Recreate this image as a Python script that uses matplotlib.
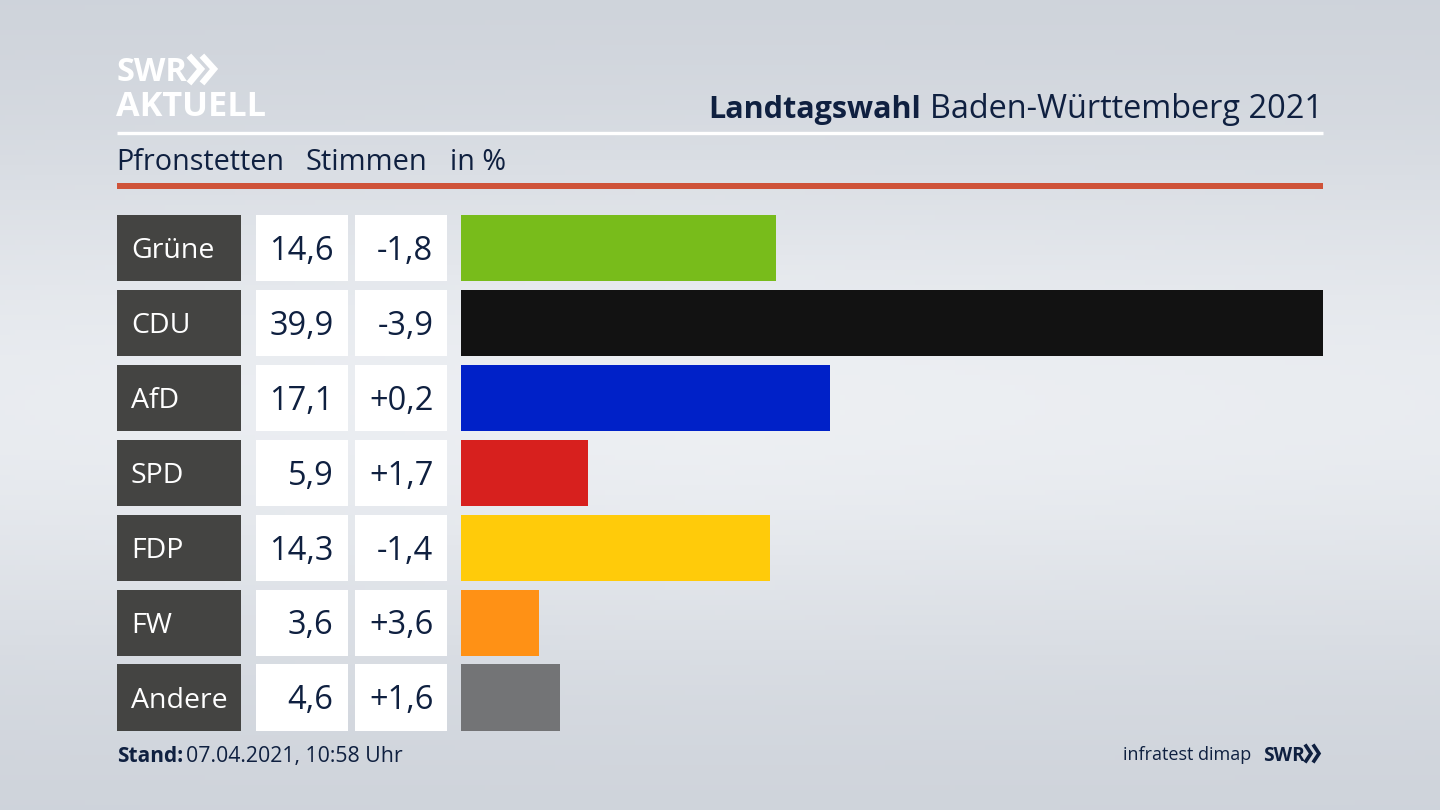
import numpy as np
import matplotlib
matplotlib.use('Agg')
import matplotlib.pyplot as plt
from matplotlib.patches import Rectangle

parteien = ['Grüne', 'CDU', 'AfD', 'SPD', 'FDP', 'FW', 'Andere']
stimmen = [14.6, 39.9, 17.1, 5.9, 14.3, 3.6, 4.6]
stimmen_txt = ['14,6', '39,9', '17,1', '5,9', '14,3', '3,6', '4,6']
diff_txt = ['-1,8', '-3,9', '+0,2', '+1,7', '-1,4', '+3,6', '+1,6']
farben = ['#78bc1b', '#121212', '#0021c8', '#d7201e', '#ffcb0a', '#ff9115', '#737476']

dunkel = '#0f2040'
plt.rcParams['font.family'] = ['Open Sans', 'DejaVu Sans']

fig = plt.figure(figsize=(14.4, 8.1), dpi=100)

# Hintergrund und Layout in Pixeln
bg = fig.add_axes([0, 0, 1, 1])
bg.set_xlim(0, 1440)
bg.set_ylim(810, 0)
bg.axis('off')

yy, xx = np.mgrid[0:1:162j, 0:1:288j]
mitte = np.exp(-((yy - 0.5) / 0.33) ** 2) * (1 - 0.25 * np.abs(xx - 0.5))
rand = np.array([0.80, 0.82, 0.85])
hell = np.array([0.93, 0.94, 0.955])
verlauf = rand + (hell - rand) * mitte[..., None]
bg.imshow(verlauf, extent=(0, 1440, 810, 0), aspect='auto', zorder=0)

# Logo oben links
bg.text(117, 81, 'SWR', color='white', fontsize=23.5, fontweight='bold', va='baseline')
bg.text(116.5, 116, 'AKTUELL', color='white', fontsize=24.7, fontweight='bold', va='baseline')
for x0 in (191, 204):
    bg.plot([x0, x0 + 10, x0], [58, 69, 81], color='white', lw=4.5, solid_joinstyle='miter')

# Kopfzeile
bg.text(708.5, 118, 'Landtagswahl', color=dunkel, fontsize=22, fontweight='bold', va='baseline')
bg.text(1323, 118, 'Baden-Württemberg 2021', color=dunkel, fontsize=23.4, ha='right', va='baseline')
bg.plot([117, 1323], [133, 133], color='white', lw=2.4, solid_capstyle='butt')
bg.text(116, 170, 'Pfronstetten', color=dunkel, fontsize=20.7, va='baseline')
bg.text(305.5, 170, 'Stimmen', color=dunkel, fontsize=20.9, va='baseline')
bg.text(450, 170, 'in %', color=dunkel, fontsize=20.7, va='baseline')
bg.add_patch(Rectangle((117, 183), 1206, 6, color='#cf5339', lw=0))

# Zeilen mit Partei und Zahlen
y_start = 215
abstand = 75
hoehe = 66.3
for i, partei in enumerate(parteien):
    y = y_start + i * abstand - 0.1 * i
    bg.add_patch(Rectangle((117, y), 124.3, hoehe, color='#444442', lw=0))
    bg.add_patch(Rectangle((256, y), 92, hoehe, color='white', lw=0))
    bg.add_patch(Rectangle((355, y), 92, hoehe, color='white', lw=0))
    bg.text(131, y + 43.5, partei, color='white', fontsize=20.5, va='baseline')
    bg.text(333.5, y + 45, stimmen_txt[i], color=dunkel, fontsize=23.5, ha='right', va='baseline')
    bg.text(433.5, y + 45, diff_txt[i], color=dunkel, fontsize=23.5, ha='right', va='baseline')

# Balken
schritt = abstand - 0.1
y_unten = y_start + 6 * schritt + hoehe
ax = fig.add_axes([461 / 1440, 1 - y_unten / 810, 862 / 1440, (y_unten - y_start) / 810])
ax.patch.set_alpha(0)
pos = np.arange(len(parteien))
ax.barh(pos, stimmen, height=hoehe / schritt, color=farben, linewidth=0)
ax.set_xlim(0, 39.9)
ax.set_ylim(6 + hoehe / schritt / 2, -hoehe / schritt / 2)
ax.axis('off')

# Fusszeile
bg.text(117, 762, 'Stand:', color=dunkel, fontsize=15, fontweight='bold', va='baseline')
bg.text(186.5, 762, '07.04.2021, 10:58 Uhr', color=dunkel, fontsize=15.3, va='baseline')
bg.text(1251, 760, 'infratest dimap', color=dunkel, fontsize=13, ha='right', va='baseline')
bg.text(1263, 761, 'SWR', color=dunkel, fontsize=13.8, fontweight='bold', va='baseline')
for x0 in (1306, 1314):
    bg.plot([x0, x0 + 5, x0], [746, 753.5, 761], color=dunkel, lw=2.6, solid_joinstyle='miter')

fig.savefig('out.png', dpi=100)
